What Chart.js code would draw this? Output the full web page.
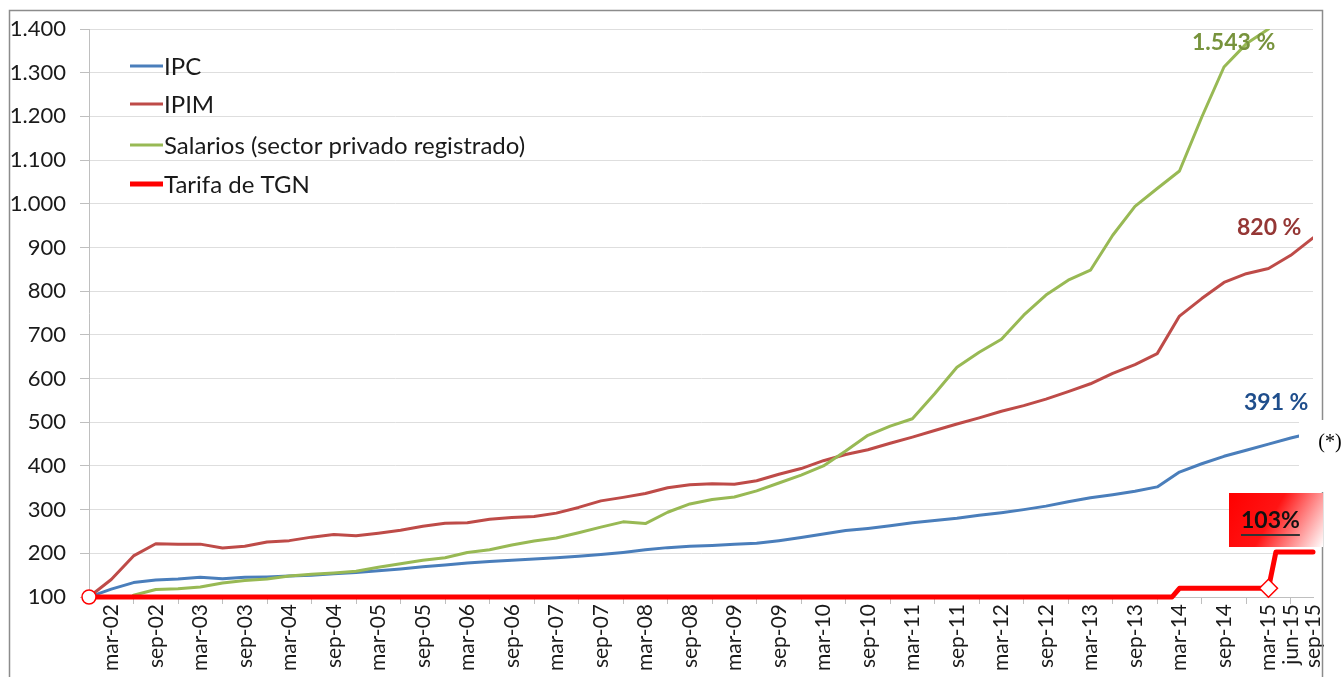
<!DOCTYPE html>
<html lang="es">
<head>
<meta charset="utf-8">
<title>IPC, IPIM, Salarios y Tarifa de TGN</title>
<script src="https://cdn.jsdelivr.net/npm/chart.js@4.4.1/dist/chart.umd.min.js"></script>
<style>
  html, body { margin: 0; padding: 0; background: #fff; overflow: hidden; }
  canvas { display: block; }
</style>
</head>
<body>
<canvas id="grafico" width="1343" height="677"></canvas>
<script>
// Meses contados desde dic-01 (0 = dic-01, 3 = mar-02 ... 165 = sep-15), base 100
const meses = [0, 3, 6, 9, 12, 15, 18, 21, 24, 27, 30, 33, 36, 39, 42, 45, 48, 51, 54, 57,
               60, 63, 66, 69, 72, 75, 78, 81, 84, 87, 90, 93, 96, 99, 102, 105, 108, 111, 114, 117,
               120, 123, 126, 129, 132, 135, 138, 141, 144, 147, 150, 153, 156, 159, 162, 165];

const ipc = [100, 118, 133, 139, 141, 145, 142, 145, 146, 148, 150, 153, 156, 160, 164, 169, 173, 178, 181, 184,
             187, 190, 193, 197, 202, 208, 213, 216, 218, 221, 223, 229, 236, 244, 252, 257, 263, 270, 275, 280,
             287, 293, 300, 308, 318, 327, 334, 342, 352, 386, 405, 422, 436, 450, 464, 476];

const ipim = [100, 140, 194, 222, 221, 221, 212, 216, 226, 229, 237, 243, 240, 246, 253, 262, 269, 270, 278, 282,
              284, 292, 305, 320, 328, 337, 350, 357, 359, 358, 366, 381, 394, 412, 426, 437, 452, 466, 481, 496,
              510, 525, 538, 553, 570, 588, 612, 632, 657, 743, 783, 820, 840, 852, 882, 922];

const salarios = [null, null, 104, 117, 119, 123, 132, 138, 141, 148, 152, 155, 159, 168, 176, 184, 190, 202, 208, 219,
                  228, 235, 247, 260, 272, 268, 294, 313, 323, 329, 343, 361, 379, 400, 434, 470, 491, 508, 565, 626,
                  660, 690, 745, 791, 825, 848, 928, 994, 1035, 1075, 1198, 1313, 1366, 1400, null, null];

// Tarifa de TGN (escalones)
const mesesTgn = [0, 146, 147, 159, 160, 165];
const tarifaTgn = [100, 100, 120, 120, 203, 203];

// Etiquetas del eje X
const etiquetasX = ['mar-02', 'sep-02', 'mar-03', 'sep-03', 'mar-04', 'sep-04', 'mar-05', 'sep-05',
                    'mar-06', 'sep-06', 'mar-07', 'sep-07', 'mar-08', 'sep-08', 'mar-09', 'sep-09',
                    'mar-10', 'sep-10', 'mar-11', 'sep-11', 'mar-12', 'sep-12', 'mar-13', 'sep-13',
                    'mar-14', 'sep-14', 'mar-15', 'jun-15', 'sep-15'];
const mesesEtiquetas = [3, 9, 15, 21, 27, 33, 39, 45, 51, 57, 63, 69, 75, 81, 87, 93, 99, 105, 111, 117,
                        123, 129, 135, 141, 147, 153, 159, 162, 165];
// marcas de división del eje X
const mesesMarcas = [6, 12, 18, 24, 30, 36, 42, 48, 54, 60, 66, 72, 78, 84, 90, 96, 102, 108, 114, 120,
                     126, 132, 138, 144, 150, 156, 162];

const series = ['IPC', 'IPIM', 'Salarios (sector privado registrado)', 'Tarifa de TGN'];
const colores = ['#4a7ebb', '#be4b48', '#98b954', '#ff0000'];

function puntos(xs, ys) {
    return xs.map((x, i) => ({ x: x, y: ys[i] }));
}

function formatoMiles(v) {
    return String(v).replace(/\B(?=(\d{3})+(?!\d))/g, '.');
}

const FUENTE = 'Lato';

// Leyenda dentro del gráfico y textos de anotación
const extras = {
    id: 'extras',
    afterDraw(chart) {
        const ctx = chart.ctx;
        ctx.save();

        // marco
        ctx.strokeStyle = '#8c8c8c';
        ctx.lineWidth = 1.5;
        ctx.strokeRect(9.5, 10.5, 1313, 700);

        // leyenda
        const ys = [66, 104, 145, 184];
        ctx.font = '24px ' + FUENTE;
        ctx.textBaseline = 'middle';
        ctx.textAlign = 'left';
        series.forEach((nombre, i) => {
            ctx.strokeStyle = colores[i];
            ctx.lineWidth = i === 3 ? 5 : 3;
            ctx.beginPath();
            ctx.moveTo(130, ys[i]);
            ctx.lineTo(163, ys[i]);
            ctx.stroke();
            ctx.fillStyle = '#1a1a1a';
            ctx.fillText(nombre, 164, ys[i] + 1);
        });

        // porcentajes
        ctx.font = 'bold 23px ' + FUENTE;
        ctx.fillStyle = '#77933c';
        ctx.fillText('1.543 %', 1192, 43);
        ctx.fillStyle = '#953735';
        ctx.fillText('820 %', 1237, 228);
        ctx.fillStyle = '#1f4e8c';
        ctx.fillText('391 %', 1244, 403);

        // recuadro (*)
        ctx.fillStyle = '#ffffff';
        ctx.fillRect(1299, 420, 44, 72);
        ctx.fillStyle = '#000000';
        ctx.font = '20px "Liberation Serif"';
        ctx.textAlign = 'center';
        ctx.fillText('(*)', 1330, 443);

        // recuadro 103%
        const g = ctx.createLinearGradient(1229, 493, 1323, 547);
        g.addColorStop(0, '#ff0000');
        g.addColorStop(0.45, '#ff1414');
        g.addColorStop(1, '#ffffff');
        ctx.fillStyle = g;
        ctx.fillRect(1229, 493, 94, 54);
        ctx.fillStyle = '#111111';
        ctx.font = 'bold 23px ' + FUENTE;
        ctx.textAlign = 'left';
        const w = ctx.measureText('103%').width;
        ctx.fillText('103%', 1241, 521);
        ctx.strokeStyle = '#333333';
        ctx.lineWidth = 2;
        ctx.beginPath();
        ctx.moveTo(1241, 535);
        ctx.lineTo(1241 + w, 535);
        ctx.stroke();

        ctx.restore();
    }
};

new Chart(document.getElementById('grafico'), {
    type: 'line',
    data: {
        datasets: [
            { label: series[0], data: puntos(meses, ipc), borderColor: colores[0], borderWidth: 3, order: 3 },
            { label: series[1], data: puntos(meses, ipim), borderColor: colores[1], borderWidth: 3, order: 2 },
            { label: series[2], data: puntos(meses, salarios), borderColor: colores[2], borderWidth: 3, order: 1 },
            {
                label: series[3], data: puntos(mesesTgn, tarifaTgn), borderColor: colores[3], borderWidth: 5, order: 0,
                clip: false,
                pointRadius: [7, 0, 0, 9, 0, 0],
                pointStyle: ['circle', 'circle', 'circle', 'rectRot', 'circle', 'circle'],
                pointBackgroundColor: '#ffffff',
                pointBorderColor: '#ff0000',
                pointBorderWidth: 1.5
            }
        ]
    },
    options: {
        responsive: false,
        animation: false,
        devicePixelRatio: 1,
        elements: {
            line: { tension: 0, borderCapStyle: 'round', borderJoinStyle: 'round' },
            point: { radius: 0 }
        },
        layout: { padding: { left: 0, right: 30, top: 29, bottom: 0 } },
        plugins: {
            legend: { display: false },
            tooltip: { enabled: false }
        },
        scales: {
            x: {
                type: 'linear',
                min: 0,
                max: 165,
                afterBuildTicks: scale => {
                    const valores = [...new Set([...mesesEtiquetas, ...mesesMarcas])].sort((a, b) => a - b);
                    scale.ticks = valores.map(v => ({ value: v }));
                },
                afterFit: scale => { scale.height = 80; },
                grid: {
                    drawOnChartArea: false,
                    tickLength: 7,
                    tickColor: ctx => (ctx.tick && mesesMarcas.includes(ctx.tick.value)) ? '#bfbfbf' : 'rgba(0,0,0,0)'
                },
                border: { color: '#bfbfbf' },
                ticks: {
                    autoSkip: false,
                    minRotation: 90,
                    maxRotation: 90,
                    padding: 0,
                    color: '#1a1a1a',
                    font: { family: FUENTE, size: 21 },
                    callback: v => {
                        const i = mesesEtiquetas.indexOf(v);
                        return i >= 0 ? etiquetasX[i] : '';
                    }
                }
            },
            y: {
                min: 100,
                max: 1400,
                afterFit: scale => { scale.width = 89; },
                grid: {
                    color: '#dedede',
                    borderDash: [2, 2],
                    tickColor: '#bfbfbf',
                    tickLength: 9
                },
                border: { color: '#bfbfbf' },
                ticks: {
                    stepSize: 100,
                    padding: 14,
                    color: '#1a1a1a',
                    font: { family: FUENTE, size: 22 },
                    callback: v => formatoMiles(v)
                }
            }
        }
    },
    plugins: [extras]
});
</script>
</body>
</html>
